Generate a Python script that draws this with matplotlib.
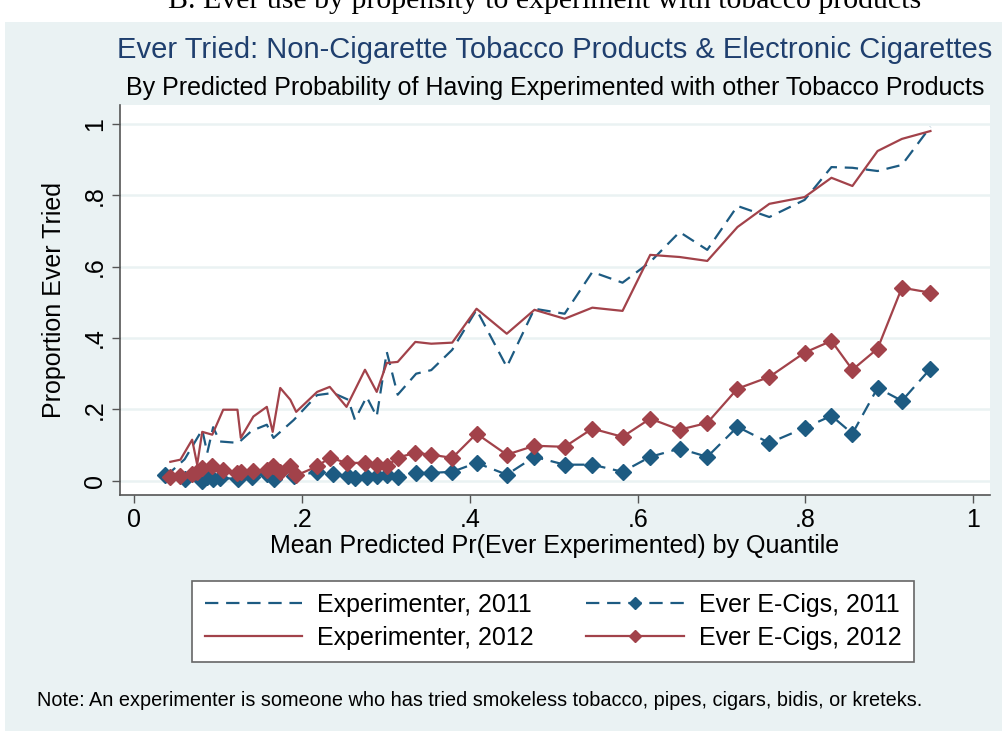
"""
Ever tried non-cigarette tobacco / e-cigs by predicted propensity quantile
"""

import matplotlib.pyplot as plt
from matplotlib.patches import Rectangle

plt.rcParams['font.family'] = ['Liberation Sans', 'DejaVu Sans']

# --- data ---
x_2011 = [0.037, 0.060, 0.081, 0.087, 0.094, 0.102, 0.124, 0.140, 0.158, 0.166,
          0.190, 0.218, 0.237, 0.255, 0.263, 0.277, 0.289, 0.301, 0.314, 0.336,
          0.354, 0.379, 0.408, 0.444, 0.477, 0.513, 0.546, 0.582, 0.615, 0.650,
          0.683, 0.719, 0.757, 0.799, 0.831, 0.856, 0.886, 0.915, 0.949]
exp_2011 = [0.011, 0.060, 0.143, 0.078, 0.150, 0.110, 0.106, 0.140, 0.157, 0.120,
            0.170, 0.240, 0.246, 0.227, 0.171, 0.235, 0.180, 0.361, 0.241, 0.300,
            0.310, 0.367, 0.479, 0.319, 0.482, 0.468, 0.585, 0.555, 0.613, 0.697,
            0.647, 0.770, 0.739, 0.787, 0.879, 0.877, 0.868, 0.885, 0.992]
ecig_2011 = [0.015, 0.005, 0.000, 0.010, 0.005, 0.008, 0.005, 0.010, 0.020, 0.005,
             0.012, 0.025, 0.020, 0.012, 0.008, 0.010, 0.012, 0.015, 0.010, 0.022,
             0.022, 0.025, 0.050, 0.017, 0.067, 0.045, 0.045, 0.025, 0.067, 0.090,
             0.067, 0.151, 0.106, 0.148, 0.182, 0.132, 0.260, 0.224, 0.314]

x_2012 = [0.043, 0.055, 0.069, 0.075, 0.081, 0.093, 0.106, 0.123, 0.127, 0.142,
          0.158, 0.165, 0.174, 0.186, 0.193, 0.218, 0.233, 0.253, 0.275, 0.289,
          0.301, 0.314, 0.335, 0.354, 0.379, 0.408, 0.444, 0.477, 0.513, 0.546,
          0.582, 0.615, 0.650, 0.683, 0.719, 0.757, 0.799, 0.831, 0.856, 0.886,
          0.915, 0.949]
exp_2012 = [0.053, 0.059, 0.115, 0.045, 0.137, 0.129, 0.199, 0.199, 0.120, 0.180,
            0.207, 0.137, 0.260, 0.227, 0.193, 0.249, 0.263, 0.207, 0.311, 0.249,
            0.330, 0.333, 0.389, 0.384, 0.387, 0.482, 0.412, 0.479, 0.454, 0.485,
            0.476, 0.633, 0.627, 0.616, 0.711, 0.776, 0.795, 0.849, 0.826, 0.924,
            0.958, 0.980]
ecig_2012 = [0.010, 0.012, 0.020, 0.025, 0.035, 0.042, 0.030, 0.022, 0.025, 0.028,
             0.030, 0.040, 0.025, 0.040, 0.015, 0.040, 0.065, 0.050, 0.050, 0.045,
             0.040, 0.065, 0.078, 0.073, 0.064, 0.132, 0.073, 0.098, 0.095, 0.146,
             0.123, 0.174, 0.143, 0.162, 0.258, 0.291, 0.359, 0.392, 0.311, 0.370,
             0.541, 0.527]

ticks = [0, 0.2, 0.4, 0.6, 0.8, 1]
tick_labels = ["0", ".2", ".4", ".6", ".8", "1"]

blue = "#1d5b82"
red = "#a2424a"
bg = "#eaf2f3"
dash = (6, 3.5)
fs = 18

fig = plt.figure(figsize=(10.02, 7.31), dpi=100)
# Stata-style graph region below the cut-off paper caption
fig.patches.append(Rectangle((5 / 1002, 0), 1, 1 - 22 / 731, transform=fig.transFigure,
                             facecolor=bg, edgecolor="none", zorder=-1))
fig.text(545 / 1002, 1 - 8 / 731, "B. Ever use by propensity to experiment with tobacco products",
         family="Liberation Serif", fontsize=21.5, ha="center", va="baseline")

ax = fig.add_axes([120 / 1002, 1 - 495 / 731, 870 / 1002, 390 / 731])
ax.plot(x_2011, exp_2011, color=blue, lw=1.6, dashes=dash, label="Experimenter, 2011")
ax.plot(x_2011, ecig_2011, color=blue, lw=1.6, dashes=dash, marker="D", ms=8,
        label="Ever E-Cigs, 2011")
ax.plot(x_2012, exp_2012, color=red, lw=1.6, label="Experimenter, 2012")
ax.plot(x_2012, ecig_2012, color=red, lw=1.6, marker="D", ms=8, label="Ever E-Cigs, 2012")

ax.set_xlim(-0.017, 1.02)
ax.set_ylim(-0.04, 1.053)
ax.set_xticks(ticks, tick_labels)
ax.set_yticks(ticks, tick_labels)
ax.tick_params(axis="y", labelrotation=90)
for lab in ax.get_yticklabels():
    lab.set_va("center")
ax.tick_params(labelsize=fs, length=6, width=1, color="#555555")
ax.yaxis.grid(True, color=bg, lw=1.8)
ax.set_axisbelow(True)
for s in ["top", "right"]:
    ax.spines[s].set_visible(False)
for s in ["left", "bottom"]:
    ax.spines[s].set_color("#555555")
    ax.spines[s].set_linewidth(1.2)

ax.set_xlabel("Mean Predicted Pr(Ever Experimented) by Quantile", fontsize=fs, labelpad=1)
ax.set_ylabel("Proportion Ever Tried", fontsize=fs, labelpad=12)

fig.text(555 / 1002, 1 - 50 / 731, "Ever Tried: Non-Cigarette Tobacco Products & Electronic Cigarettes",
         fontsize=21, color="#1f3f6e", ha="center", va="center")
fig.text(555 / 1002, 1 - 88 / 731, "By Predicted Probability of Having Experimented with other Tobacco Products",
         fontsize=18, ha="center", va="center")

h, l = ax.get_legend_handles_labels()
order = [0, 2, 1, 3]
leg = fig.legend([h[i] for i in order], [l[i] for i in order], ncol=2,
                 loc="center", bbox_to_anchor=(0.5519, 0.1498), fontsize=fs,
                 handlelength=3.9, numpoints=1, columnspacing=2.1, handletextpad=0.6,
                 fancybox=False, edgecolor="#666666", framealpha=1, borderpad=0.5,
                 labelspacing=0.35, markerscale=0.75)
leg.get_frame().set_linewidth(1.2)

fig.text(37 / 1002, 1 - 700 / 731,
         "Note: An experimenter is someone who has tried smokeless tobacco, pipes, cigars, bidis, or kreteks.",
         fontsize=14.3, ha="left", va="center")

fig.savefig("out.png", dpi=100)
